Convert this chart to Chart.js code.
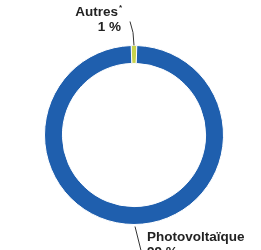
<!DOCTYPE html>
<html>
<head>
<meta charset="utf-8">
<script src="https://cdn.jsdelivr.net/npm/chart.js@4"></script>
<style>
  html, body { margin: 0; padding: 0; background: #fff; }
  #wrap { width: 261px; height: 250px; position: relative; }
</style>
</head>
<body>
<div id="wrap"><canvas id="mixChart" width="261" height="250"></canvas></div>
<script>
const labels = ["Autres", "Photovoltaïque"];
const shares = [1, 99];
const shareTexts = ["1 %", "99 %"];
const colors = ["#c9d34c", "#1f5fae"];

// leader lines + labels around the ring
const calloutPlugin = {
  id: "callouts",
  afterDatasetsDraw(chart) {
    const ctx = chart.ctx;
    const arcs = chart.getDatasetMeta(0).data;
    const font = "bold 13.5px 'Liberation Sans', Arial, sans-serif";
    ctx.save();
    ctx.strokeStyle = "#333";
    ctx.lineWidth = 1;
    ctx.fillStyle = "#222";
    ctx.font = font;

    // Autres, top
    let a = arcs[0];
    let mid = (a.startAngle + a.endAngle) / 2;
    let x0 = a.x + Math.cos(mid) * a.outerRadius;
    let y0 = a.y + Math.sin(mid) * a.outerRadius;
    ctx.beginPath();
    ctx.moveTo(x0, y0);
    ctx.quadraticCurveTo(x0, y0 - 14, x0 - 4, y0 - 24);
    ctx.stroke();
    ctx.textAlign = "right";
    ctx.fillText(labels[0], x0 - 16, 16);
    ctx.font = "bold 8px 'Liberation Sans', Arial, sans-serif";
    ctx.textAlign = "left";
    ctx.fillText("*", x0 - 15, 10);
    ctx.font = font;
    ctx.textAlign = "right";
    ctx.fillText(shareTexts[0], x0 - 13, 31);

    // Photovoltaïque, bottom
    a = arcs[1];
    mid = (a.startAngle + a.endAngle) / 2;
    x0 = a.x + Math.cos(mid) * a.outerRadius;
    y0 = a.y + Math.sin(mid) * a.outerRadius;
    ctx.beginPath();
    ctx.moveTo(x0 + 1, y0 + 2);
    ctx.quadraticCurveTo(x0 + 4, y0 + 14, x0 + 7, y0 + 26);
    ctx.stroke();
    ctx.textAlign = "left";
    ctx.fillText(labels[1], x0 + 13, y0 + 16);
    ctx.fillText(shareTexts[1], x0 + 13, y0 + 31);
    ctx.restore();
  }
};

new Chart(document.getElementById("mixChart"), {
  type: "doughnut",
  data: {
    labels,
    datasets: [{
      data: shares,
      backgroundColor: colors,
      borderColor: "#fff",
      borderWidth: 1
    }]
  },
  options: {
    responsive: false,
    animation: false,
    cutout: "80%",
    rotation: -(shares[0] / 100) * 180,
    layout: { padding: { left: 44, right: 37, top: 45, bottom: 25 } },
    plugins: {
      legend: { display: false },
      tooltip: { enabled: false }
    }
  },
  plugins: [calloutPlugin]
});
</script>
</body>
</html>
